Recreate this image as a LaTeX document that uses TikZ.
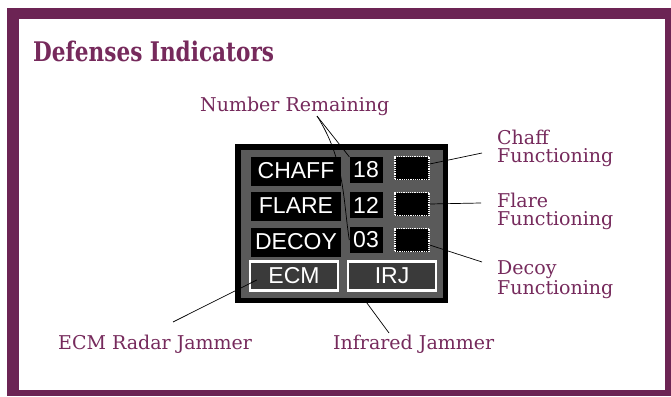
\documentclass[tikz,border=0pt]{standalone}
\usepackage{fontspec}
\setmainfont{DejaVu Serif}
\newfontfamily\panelfont{Liberation Sans}
\definecolor{framepurple}{RGB}{108,36,84}
\definecolor{textpurple}{RGB}{118,42,92}
\definecolor{panelgray}{RGB}{90,90,90}
\definecolor{btngray}{RGB}{58,58,58}
\tikzset{
  lbl/.style={anchor=base west, inner sep=0pt, text=textpurple, font=\fontsize{19}{18}\selectfont, align=left},
  blackbox/.style={fill=black, draw=none, inner sep=0pt},
  ptext/.style={text=white!92, font=\panelfont\fontsize{23}{23}\selectfont, inner sep=0pt},
  funcbox/.style={fill=black, draw=white!85, densely dotted, line width=1.2pt},
  btn/.style={fill=btngray, draw=white!92, line width=2.5pt},
  conn/.style={draw=black, line width=0.7pt}
}
\begin{document}
\begin{tikzpicture}[x=1pt,y=-1pt]
\useasboundingbox (0,0) rectangle (671,396);
% frame
\fill[framepurple] (7,8) rectangle (671,396);
\fill[white] (19,19) rectangle (665,390);
% title
\node[lbl, font=\bfseries\fontsize{27}{27}\selectfont, xscale=0.8] (title) at (33,61) {Defenses Indicators};
% panel
\fill[black] (235,144) rectangle (448,303);
\fill[panelgray] (241,150) rectangle (443,298);
% label boxes
\node[blackbox, minimum width=90pt, minimum height=29pt] (chaffbox) at (296,171) {};
\node[blackbox, minimum width=90pt, minimum height=29pt] (flarebox) at (296,206) {};
\node[blackbox, minimum width=90pt, minimum height=29pt] (decoybox) at (296,242) {};
\node[ptext] at (chaffbox) {CHAFF};
\node[ptext] at (flarebox) {FLARE};
\node[ptext] at (decoybox) {DECOY};
% number boxes
\node[blackbox, minimum width=33pt, minimum height=26pt] (n18) at (366,170) {};
\node[blackbox, minimum width=33pt, minimum height=26pt] (n12) at (366,205) {};
\node[blackbox, minimum width=33pt, minimum height=26pt] (n03) at (366,240) {};
\node[ptext] at (n18) {18};
\node[ptext] at (n12) {12};
\node[ptext] at (n03) {03};
% functioning squares
\node[funcbox, minimum width=34pt, minimum height=23pt] (fchaff) at (412,168) {};
\node[funcbox, minimum width=34pt, minimum height=23pt] (fflare) at (412,204) {};
\node[funcbox, minimum width=34pt, minimum height=23pt] (fdecoy) at (412,240) {};
% buttons
\node[btn, minimum width=88pt, minimum height=29pt] (ecm) at (294,276) {};
\node[ptext] at (ecm) {ECM};
\node[btn, minimum width=88pt, minimum height=29pt] (irj) at (392,276) {};
\node[ptext] at (irj) {IRJ};
% labels
\node[lbl] (numrem) at (200,111) {Number Remaining};
\node[lbl] (chafflbl) at (497,162) {Chaff\\Functioning};
\node[lbl] (flarelbl) at (497,225) {Flare\\Functioning};
\node[lbl] (decoylbl) at (497,294) {Decoy\\Functioning};
\node[lbl] (ecmlbl) at (58,349) {ECM Radar Jammer};
\node[lbl] (irjlbl) at (333,349) {Infrared Jammer};
% connectors
\coordinate (apex) at (317,116);
\coordinate (cA) at (482,153);
\coordinate (cB) at (481,203);
\coordinate (cC) at (482,262);
\coordinate (cD) at (173,322);
\coordinate (cE) at (389,333);
\draw[conn] (apex) -- (n18.north west);
\draw[conn] (apex) .. controls (345,160) and (343,200) .. (n03.west);
\draw[conn] (fchaff.east) ++(0,-4) -- (cA);
\draw[conn] (fflare.east) -- (cB);
\draw[conn] (fdecoy.east) ++(0,5) -- (cC);
\draw[conn] (ecm.west) ++(8,4) -- (cD);
\draw[conn] (irj.south) ++(-26,10) -- (cE);
\end{tikzpicture}
\end{document}
